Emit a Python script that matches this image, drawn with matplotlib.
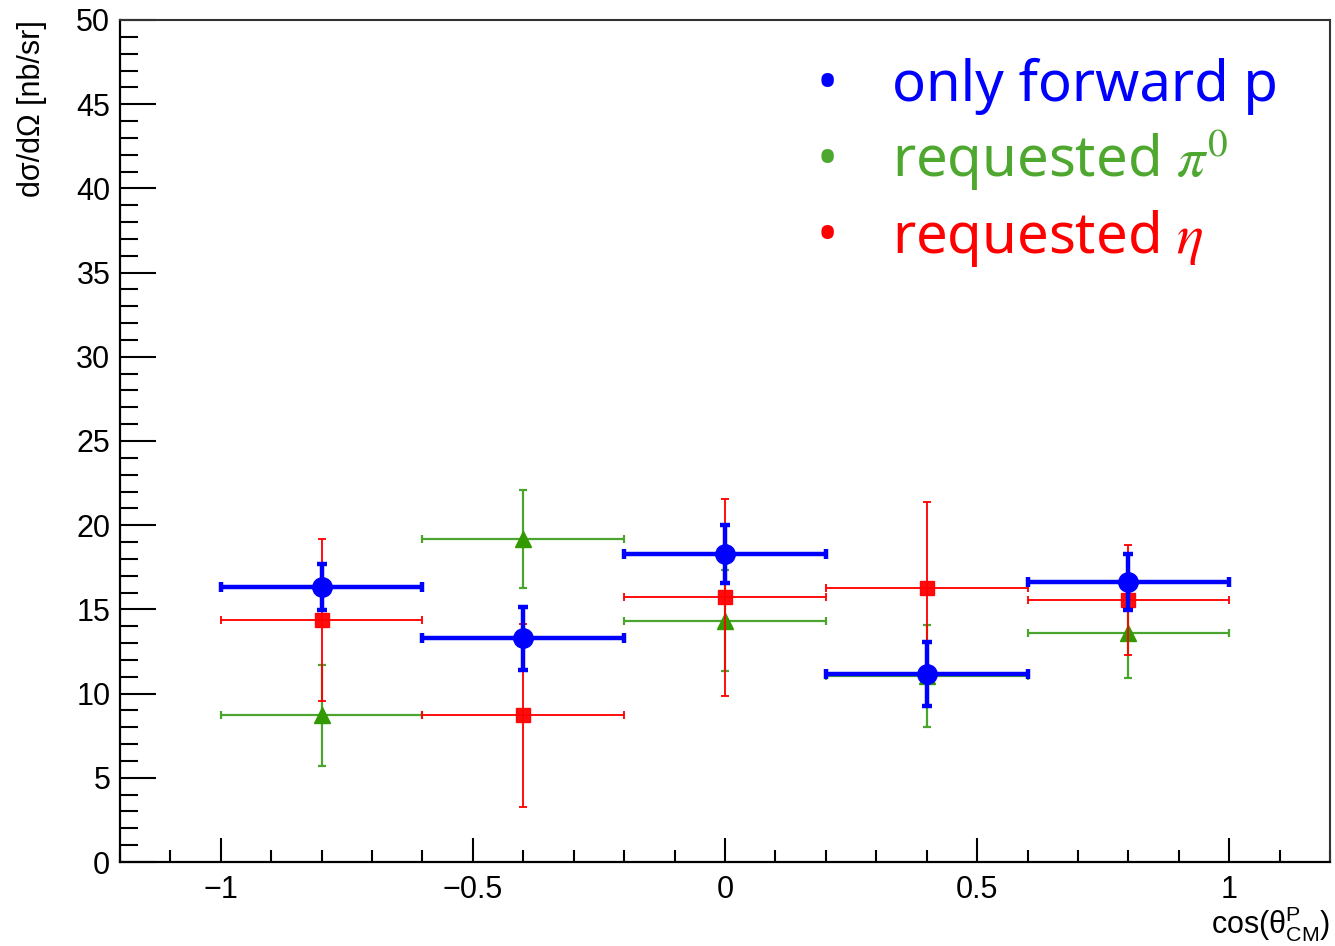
import matplotlib
matplotlib.use("Agg")
import matplotlib.pyplot as plt
from matplotlib.ticker import MultipleLocator
from matplotlib.font_manager import FontProperties

# ---- data ----
x_centers = [-0.8, -0.4, 0.0, 0.4, 0.8]
x_halfwidth = [0.2, 0.2, 0.2, 0.2, 0.2]

fwd_p = [16.33, 13.30, 18.29, 11.16, 16.63]
fwd_p_err = [1.35, 1.87, 1.70, 1.90, 1.66]

req_pi0 = [8.70, 19.18, 14.33, 11.05, 13.57]
req_pi0_err = [3.00, 2.90, 3.00, 3.05, 2.63]

req_eta = [14.37, 8.70, 15.71, 16.28, 15.56]
req_eta_err = [4.80, 5.45, 5.83, 5.10, 3.27]

labels = ["only forward p", r"requested $\pi^0$", r"requested $\eta$"]
label_colors = ["#0000ff", "#4ea72e", "#ff0000"]
xticks = [-1, -0.5, 0, 0.5, 1]
xtick_labels = ["\u22121", "\u22120.5", "0", "0.5", "1"]

BLUE = "#0000ff"
GREEN_M = "#339900"
GREEN_L = "#4aa52e"
RED = "#ff0000"

plt.rcParams['font.family'] = ['Liberation Sans', 'DejaVu Sans']

fig = plt.figure(figsize=(13.35, 9.46), dpi=100)
ax = fig.add_axes([120/1335, 84/946, 1210/1335, 842/946])

ax.errorbar(x_centers, req_pi0, xerr=x_halfwidth, yerr=req_pi0_err, fmt='^',
            color=GREEN_L, mfc=GREEN_M, mec=GREEN_M, ms=12, elinewidth=1.6,
            capsize=3, capthick=1.6, zorder=2)
ax.errorbar(x_centers, req_eta, xerr=x_halfwidth, yerr=req_eta_err, fmt='s',
            color=RED, mfc=RED, mec=RED, ms=9.5, elinewidth=1.4,
            capsize=3, capthick=1.4, zorder=3, alpha=0.95)
ax.errorbar(x_centers, fwd_p, xerr=x_halfwidth, yerr=fwd_p_err, fmt='o',
            color=BLUE, mfc=BLUE, mec=BLUE, ms=14, elinewidth=3.2,
            capsize=3.5, capthick=3.2, zorder=4)

ax.set_xlim(-1.2, 1.2)
ax.set_ylim(0, 50)

ax.xaxis.set_major_locator(MultipleLocator(0.5))
ax.xaxis.set_minor_locator(MultipleLocator(0.1))
ax.yaxis.set_major_locator(MultipleLocator(5))
ax.yaxis.set_minor_locator(MultipleLocator(1))
ax.set_xticks(xticks)
ax.set_xticklabels(xtick_labels)

ax.tick_params(axis='both', which='both', direction='in', width=1.5,
               top=False, right=False, labelsize=22, colors='black')
ax.tick_params(axis='y', which='major', length=26, pad=7)
ax.tick_params(axis='y', which='minor', length=13)
ax.tick_params(axis='x', which='major', length=17, pad=9)
ax.tick_params(axis='x', which='minor', length=8.6)

for side in ['left', 'bottom']:
    ax.spines[side].set_linewidth(1.6)
    ax.spines[side].set_color('black')
for side in ['top', 'right']:
    ax.spines[side].set_linewidth(1.5)
    ax.spines[side].set_color('#333333')

ax.set_ylabel("d\u03c3/d\u03a9 [nb/sr]", fontsize=22, loc='top')
ax.yaxis.set_label_coords(-0.0603, 1.0)
ax.set_xlabel("cos(\u03b8$^{\\mathregular{P}}_{\\mathregular{CM}}$)",
              fontsize=22, loc='right')
ax.xaxis.label.set_verticalalignment('bottom')
ax.xaxis.set_label_coords(1.0, -(944 - 862) / 842)

# ---- legend (manual text) ----
lp = FontProperties(family=['Noto Sans', 'DejaVu Sans'], size=40.5, math_fontfamily='stix')
bp = FontProperties(family=['Noto Sans', 'DejaVu Sans'], size=40.5)
baselines = [101, 177, 253]
for lab, col, b in zip(labels, label_colors, baselines):
    fig.text(892/1335, 1 - b/946, lab, color=col, fontproperties=lp,
             ha='left', va='baseline')
    fig.text(827/1335, 1 - b/946, "\u2022", color=col, fontproperties=bp,
             ha='center', va='baseline')

fig.savefig("out.png", dpi=100)
